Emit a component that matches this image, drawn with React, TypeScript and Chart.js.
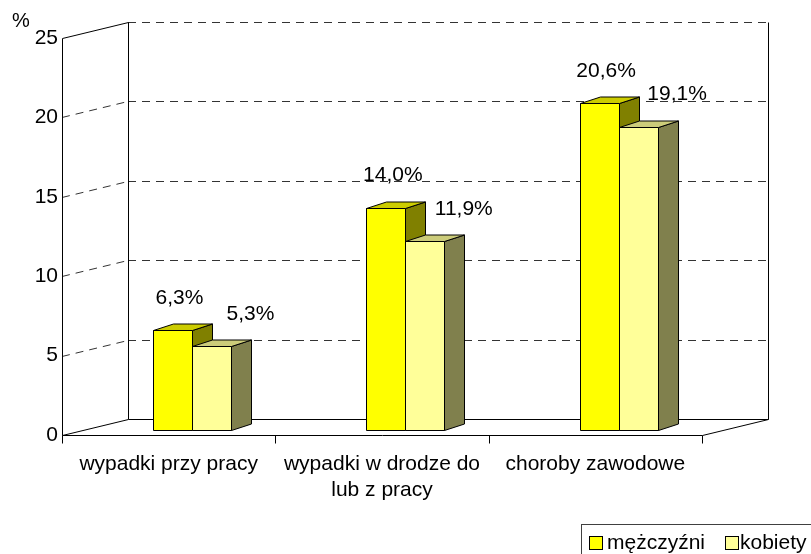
import React, { useEffect, useRef } from 'react';
import { Chart, registerables } from 'chart.js';

Chart.register(...registerables);

// ---- data ----
const categories: (string | string[])[] = [
  'wypadki przy pracy',
  ['wypadki w drodze do', 'lub z pracy'],
  'choroby zawodowe',
];
const seriesNames = ['mężczyźni', 'kobiety'];
const menValues = [6.3, 14.0, 20.6];
const womenValues = [5.3, 11.9, 19.1];
const yTickValues = [0, 5, 10, 15, 20, 25];
const yUnit = '%';

// ---- styles ----
const FONT = "'Liberation Sans', Arial, sans-serif";
const frontColors = ['#FFFF00', '#FFFF99'];
const topColors = ['#CCCC00', '#CCCC7A'];
const sideColors = ['#808000', '#80804D'];

const WALL_DX = 66;
const WALL_DY = -16;
const BAR_OX = 23.3;
const BAR_OY = -5;
const BAR_DX = 20;
const BAR_DY = -6.5;
const LABEL_DX = [7, 39];
const LABEL_DY = -32;

function fmt(v: number) {
  return v.toFixed(1).replace('.', ',') + '%';
}

function line(ctx: CanvasRenderingContext2D, x1: number, y1: number, x2: number, y2: number) {
  ctx.beginPath();
  ctx.moveTo(x1, y1);
  ctx.lineTo(x2, y2);
  ctx.stroke();
}

function poly(ctx: CanvasRenderingContext2D, pts: number[][], fill: string) {
  ctx.beginPath();
  ctx.moveTo(pts[0][0], pts[0][1]);
  for (let i = 1; i < pts.length; i++) ctx.lineTo(pts[i][0], pts[i][1]);
  ctx.closePath();
  ctx.fillStyle = fill;
  ctx.fill();
  ctx.stroke();
}

const threeD = {
  id: 'threeD',
  beforeDatasetsDraw(chart: any) {
    const { ctx, chartArea: a, scales } = chart;
    const ys = scales.y;
    const xs = scales.x;
    const L = a.left, R = a.right, B = a.bottom, T = a.top;
    ctx.save();
    ctx.lineWidth = 1;
    // gridlines
    ctx.strokeStyle = '#333';
    ctx.setLineDash([8, 6]);
    yTickValues.forEach((v) => {
      if (v === 0) return;
      const fy = Math.round(ys.getPixelForValue(v)) + 0.5;
      const by = Math.round(ys.getPixelForValue(v) + WALL_DY) + 0.5;
      if (v !== yTickValues[yTickValues.length - 1]) line(ctx, L, fy, L + WALL_DX, by);
      line(ctx, L + WALL_DX, by, R + WALL_DX, by);
    });
    ctx.setLineDash([]);
    ctx.strokeStyle = '#000';
    const l = Math.round(L) + 0.5, r = Math.round(R) + 0.5;
    const t = Math.round(T) + 0.5, b = Math.round(B) + 0.5;
    line(ctx, l, t, l, b);
    line(ctx, l, t, l + WALL_DX, t + WALL_DY);
    line(ctx, l + WALL_DX, t + WALL_DY, l + WALL_DX, b + WALL_DY);
    line(ctx, r + WALL_DX, t + WALL_DY, r + WALL_DX, b + WALL_DY);
    line(ctx, l, b, r, b);
    line(ctx, r, b, r + WALL_DX, b + WALL_DY);
    line(ctx, l + WALL_DX, b + WALL_DY, r + WALL_DX, b + WALL_DY);
    line(ctx, l, b, l + WALL_DX, b + WALL_DY);
    // category tick marks
    for (let i = 0; i <= categories.length; i++) {
      const xb = Math.round(xs.getPixelForValue(i - 0.5)) + 0.5;
      line(ctx, xb, b, xb, b + 8);
    }
    ctx.restore();
  },
  afterDatasetsDraw(chart: any) {
    const { ctx } = chart;
    ctx.save();
    ctx.lineWidth = 1;
    ctx.strokeStyle = '#000';
    ctx.lineJoin = 'miter';
    const n = categories.length;
    for (let i = 0; i < n; i++) {
      chart.data.datasets.forEach((ds: any, d: number) => {
        const el = chart.getDatasetMeta(d).data[i];
        const p = el.getProps(['x', 'y', 'base', 'width'], true);
        const left = Math.round(p.x - p.width / 2 + BAR_OX) + 0.5;
        const right = Math.round(p.x + p.width / 2 + BAR_OX) + 0.5;
        const top = Math.round(p.y + BAR_OY) + 0.5;
        const bot = Math.round(p.base + BAR_OY) + 0.5;
        poly(ctx, [[left, top], [right, top], [right, bot], [left, bot]], frontColors[d]);
        poly(ctx, [[right, top], [right + BAR_DX, top + BAR_DY], [right + BAR_DX, bot + BAR_DY], [right, bot]], sideColors[d]);
        poly(ctx, [[left, top], [left + BAR_DX, top + BAR_DY], [right + BAR_DX, top + BAR_DY], [right, top]], topColors[d]);
      });
    }
    // labels
    ctx.fillStyle = '#000';
    ctx.font = `21px ${FONT}`;
    ctx.textAlign = 'center';
    ctx.textBaseline = 'middle';
    for (let i = 0; i < n; i++) {
      chart.data.datasets.forEach((ds: any, d: number) => {
        const el = chart.getDatasetMeta(d).data[i];
        const p = el.getProps(['x', 'y', 'width'], true);
        ctx.fillText(fmt(ds.data[i]), p.x + BAR_OX + LABEL_DX[d], p.y + BAR_OY + LABEL_DY);
      });
    }
    ctx.restore();
  },
  afterDraw(chart: any) {
    const { ctx } = chart;
    ctx.save();
    ctx.fillStyle = '#000';
    ctx.font = `20px ${FONT}`;
    ctx.textAlign = 'center';
    ctx.textBaseline = 'middle';
    ctx.fillText(yUnit, 21, 21);
    // legend
    ctx.strokeStyle = '#404040';
    ctx.lineWidth = 1;
    ctx.strokeRect(581.5, 524.5, 400, 100);
    ctx.font = `21px ${FONT}`;
    ctx.textAlign = 'left';
    ctx.textBaseline = 'alphabetic';
    const boxX = [589.5, 725.5];
    const textX = [607, 740];
    chart.data.datasets.forEach((ds: any, d: number) => {
      ctx.fillStyle = frontColors[d];
      ctx.fillRect(boxX[d], 536.5, 13, 13);
      ctx.strokeStyle = '#000';
      ctx.strokeRect(boxX[d], 536.5, 13, 13);
      ctx.fillStyle = '#000';
      ctx.fillText(ds.label, textX[d], 549);
    });
    ctx.restore();
  },
};

export default function App() {
  const ref = useRef<HTMLCanvasElement>(null);
  useEffect(() => {
    if (!ref.current) return;
    const chart = new Chart(ref.current, {
      type: 'bar',
      data: {
        labels: categories as any,
        datasets: [
          { label: seriesNames[0], data: menValues, backgroundColor: 'rgba(0,0,0,0)', borderWidth: 0 },
          { label: seriesNames[1], data: womenValues, backgroundColor: 'rgba(0,0,0,0)', borderWidth: 0 },
        ],
      },
      options: {
        responsive: false,
        animation: false,
        events: [],
        layout: { padding: { left: 0, top: 38, right: 109, bottom: 0 } },
        datasets: { bar: { categoryPercentage: 78 / 213.33, barPercentage: 1 } } as any,
        plugins: { legend: { display: false }, tooltip: { enabled: false } },
        scales: {
          x: {
            offset: true,
            grid: { display: false, drawTicks: false, tickLength: 0 },
            border: { display: false },
            ticks: {
              color: '#000',
              font: { family: FONT, size: 21 },
              padding: 17,
              maxRotation: 0,
              minRotation: 0,
              autoSkip: false,
            },
            afterFit: (s: any) => { s.height = 119; },
          },
          y: {
            min: 0,
            max: 25,
            grid: { display: false, drawTicks: false, tickLength: 0 },
            border: { display: false },
            ticks: {
              stepSize: 5,
              color: '#000',
              font: { family: FONT, size: 21 },
              padding: 4,
            },
            afterFit: (s: any) => { s.width = 62; },
          },
        },
      },
      plugins: [threeD],
    });
    return () => chart.destroy();
  }, []);
  return (
    <div style={{ position: 'fixed', left: 0, top: 0, width: 811, height: 554, background: '#fff' }}>
      <canvas ref={ref} width={811} height={554} style={{ display: 'block' }} />
    </div>
  );
}
